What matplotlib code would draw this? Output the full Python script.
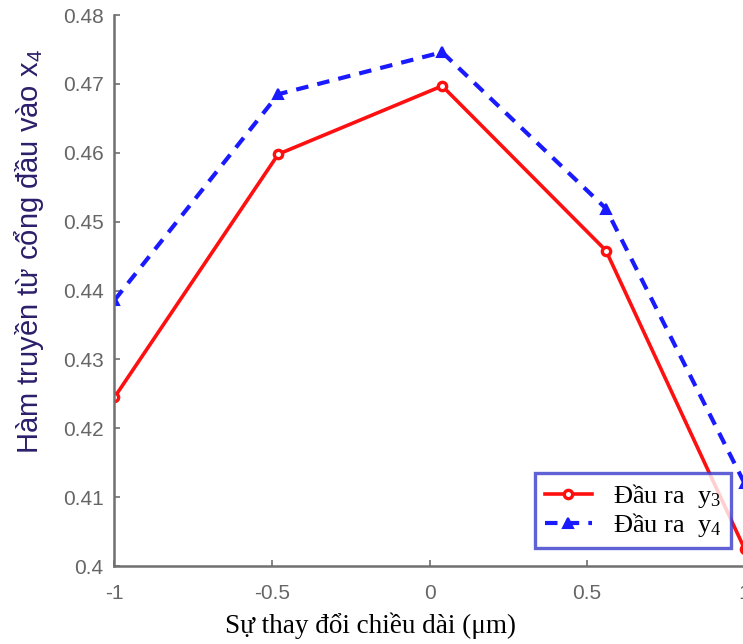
import matplotlib
matplotlib.use("Agg")
import matplotlib.pyplot as plt

plt.rcParams["mathtext.fontset"] = "custom"
plt.rcParams["mathtext.rm"] = "Liberation Serif"
plt.rcParams["mathtext.it"] = "Liberation Serif:italic"
plt.rcParams["mathtext.sf"] = "Liberation Sans"

# Length variation (um) and transfer values for two outputs
length_change = [-1.0, -0.48, 0.04, 0.56, 1.0]
out_y3 = [0.4245, 0.4598, 0.4697, 0.4458, 0.4025]
out_y4 = [0.4386, 0.4685, 0.4746, 0.4519, 0.4120]

x_ticks = [-1, -0.5, 0, 0.5, 1]
x_tick_labels = ["-1", "-0.5", "0", "0.5", "1"]
y_ticks = [0.40, 0.41, 0.42, 0.43, 0.44, 0.45, 0.46, 0.47, 0.48]
y_tick_labels = ["0.4", "0.41", "0.42", "0.43", "0.44", "0.45", "0.46", "0.47", "0.48"]

fig = plt.figure(figsize=(7.43, 6.44), dpi=100)
ax = fig.add_axes([0.1541, 0.1211, 0.8480, 0.8556])

ax.plot(length_change, out_y3, color="#ff1010", lw=2.6, ls="-",
        marker="o", ms=6, mfc="white", mec="#ff1010", mew=2.4,
        label=r"Đầu ra  $\mathrm{y}_\mathrm{3}$")
ax.plot(length_change, out_y4, color="#1a1aff", lw=3.0, ls=(0, (3, 2.2)),
        marker="^", ms=7, mfc="#1a1aff", mec="#1a1aff", mew=1.5,
        label=r"Đầu ra  $\mathrm{y}_\mathrm{4}$")

ax.set_xlim(-1, 1)
ax.set_ylim(0.4, 0.48)
ax.set_xticks(x_ticks)
ax.set_xticklabels(x_tick_labels)
ax.set_yticks(y_ticks)
ax.set_yticklabels(y_tick_labels)

for side in ("top", "right"):
    ax.spines[side].set_visible(False)
for side in ("left", "bottom"):
    ax.spines[side].set_color("#707070")
    ax.spines[side].set_linewidth(1.8)

ax.tick_params(direction="in", length=4, width=1.2, color="#707070",
               labelcolor="#666666", labelsize=15)
ax.tick_params(axis="y", pad=8)
ax.tick_params(axis="x", pad=13)
for lab in ax.get_xticklabels() + ax.get_yticklabels():
    lab.set_family("Liberation Sans")

ax.set_ylabel(r"Hàm truyền từ cổng đầu vào $\mathsf{x}_\mathsf{4}$",
              family="Liberation Sans", fontsize=21, color="#2b1f6b")
ax.yaxis.set_label_coords(-0.108, 0.57)

ax.set_xlabel("Sự thay đổi chiều dài (μm)", family="Liberation Serif",
              fontsize=19.5, color="black")
ax.xaxis.set_label_coords(0.406, -0.084)

leg = ax.legend(loc="lower right", bbox_to_anchor=(731 / 743, 96 / 644),
                bbox_transform=fig.transFigure, frameon=True, fancybox=False,
                prop={"family": "Liberation Serif", "size": 19},
                handlelength=1.8, borderpad=0.35, labelspacing=0.02,
                handletextpad=0.8, borderaxespad=0)
leg.get_frame().set_edgecolor("#3a3acc")
leg.get_frame().set_linewidth(2.4)

fig.savefig("out.png", dpi=100)
